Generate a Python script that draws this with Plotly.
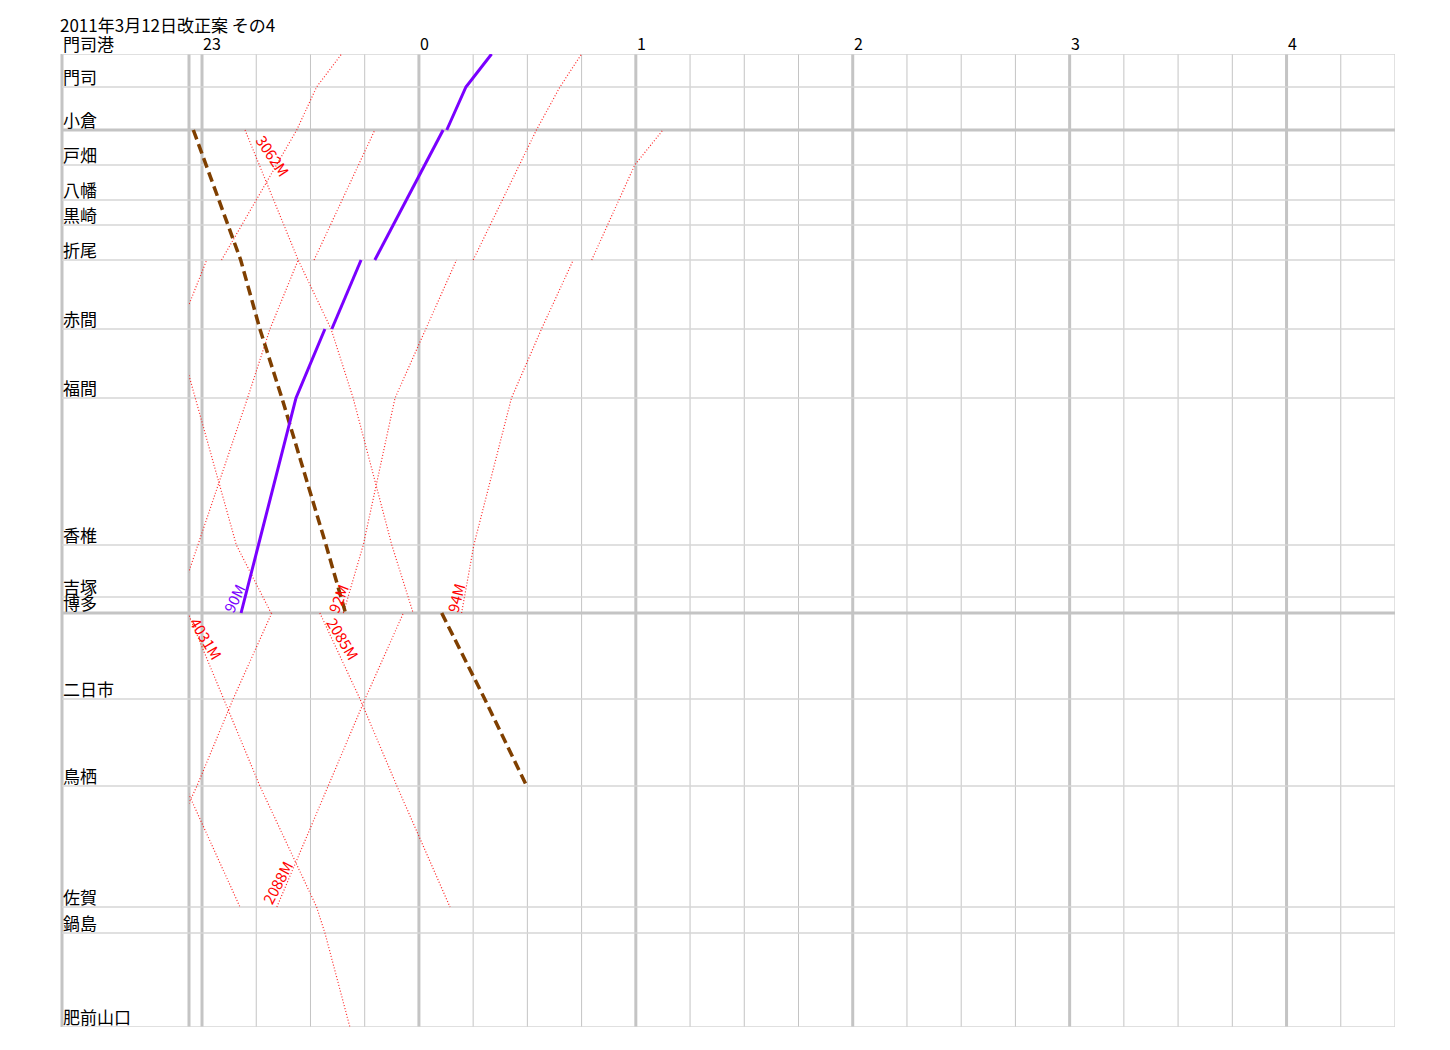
import plotly.graph_objects as go

# ---------------- data ----------------
title_text = "2011年3月12日改正案 その4"

station_names = ["門司港", "門司", "小倉", "戸畑", "八幡", "黒崎", "折尾", "赤間", "福間",
                 "香椎", "吉塚", "博多", "二日市", "鳥栖", "佐賀", "鍋島", "肥前山口"]
station_dist = [0, 33, 76, 111, 146, 171, 206, 275, 344, 491, 543, 559, 645, 732, 853, 879, 973]
major_stations = ["小倉", "博多"]

hour_labels = ["23", "0", "1", "2", "3", "4"]
hour_times = ["23:00", "0:00", "1:00", "2:00", "3:00", "4:00"]
time_start = "22:56.4"
time_end = "4:30"

# each stop: (station, arrival, departure or None)
train_90M = [("博多", "23:10.8", None), ("福間", "23:26.0", None), ("赤間", "23:34.0", "23:35.9"),
             ("折尾", "23:44.0", "23:47.8"), ("小倉", "0:06.7", "0:07.7"), ("門司", "0:13.0", None),
             ("門司港", "0:20.1", None)]
train_92M = [("小倉", "22:57.6", None), ("折尾", "23:10.7", None), ("赤間", "23:16.0", None),
             ("福間", "23:22.1", None), ("香椎", "23:34.3", None), ("博多", "23:39.7", None)]
train_94M = [("博多", "0:06.3", None), ("二日市", "0:18.2", None), ("鳥栖", "0:29.8", None)]

local_trains = {
    "A": [("赤間", "22:53.7", None), ("折尾", "23:01.3", "23:05.4"), ("小倉", "23:26.2", None),
          ("門司", "23:31.7", None), ("門司港", "23:38.6", None)],
    "3062M": [("小倉", "23:11.9", None), ("折尾", "23:26.6", None), ("赤間", "23:35.7", None),
              ("福間", "23:41.8", None), ("香椎", "23:52.5", None), ("博多", "23:58.4", None)],
    "C": [("博多", "22:52.5", None), ("香椎", "22:58.9", None), ("福間", "23:12.6", None),
          ("赤間", "23:18.8", None), ("折尾", "23:26.6", "23:31.0"), ("小倉", "23:47.8", None)],
    "E": [("赤間", "22:52.8", None), ("福間", "22:58.1", None), ("香椎", "23:09.5", None),
          ("博多", "23:19.1", None)],
    "F": [("博多", "23:39.1", None), ("香椎", "23:44.6", None), ("福間", "23:53.4", None),
          ("赤間", "0:01.9", None), ("折尾", "0:10.4", "0:15.0"), ("小倉", "0:32.5", None),
          ("門司", "0:39.0", None), ("門司港", "0:45.0", None)],
    "G": [("博多", "0:11.8", None), ("香椎", "0:15.2", None), ("福間", "0:25.6", None),
          ("赤間", "0:33.9", None), ("折尾", "0:42.7", "0:47.8"), ("戸畑", "0:59.7", None),
          ("小倉", "1:07.5", None)],
    "H": [("佐賀", "22:42.9", None), ("鳥栖", "22:58.6", None), ("二日市", "23:08.6", None),
          ("博多", "23:19.3", None)],
    "I": [("二日市", "22:45.6", None), ("鳥栖", "22:55.3", None), ("佐賀", "23:10.5", None)],
    "4031M": [("博多", "22:56.1", None), ("二日市", "23:06.1", None), ("鳥栖", "23:16.0", None),
              ("佐賀", "23:31.7", None), ("鍋島", "23:34.0", None), ("肥前山口", "23:40.9", None)],
    "2088M": [("佐賀", "23:20.7", None), ("鳥栖", "23:34.9", None), ("二日市", "23:45.1", None),
              ("博多", "23:55.7", None)],
    "2085M": [("博多", "23:32.6", None), ("二日市", "23:43.7", None), ("鳥栖", "23:53.9", None),
              ("佐賀", "0:08.6", None)],
}

# train number labels: (text, time, diagram distance, angle, colour)
train_labels = [
    ("90M", "23:08.7", 544, -64, "#7a00ff"),
    ("92M", "23:37.5", 544, -68, "#ff0000"),
    ("94M", "0:10.0", 544, -75, "#ff0000"),
    ("4031M", "23:01.3", 584, 59, "#ff0000"),
    ("2085M", "23:39.1", 584, 59, "#ff0000"),
    ("2088M", "23:20.7", 828, -62, "#ff0000"),
    ("3062M", "23:19.7", 101, 56, "#ff0000"),
]

# ---------------- helpers ----------------
def tmin(s):
    h, m = s.split(":")
    v = int(h) * 60 + float(m)
    if int(h) >= 12:
        v -= 1440
    return v

pos = dict(zip(station_names, station_dist))

def path(stops):
    xs, ys = [], []
    for st, arr, dep in stops:
        xs.append(tmin(arr)); ys.append(pos[st])
        if dep is not None:
            xs.append(None); ys.append(None)
            xs.append(tmin(dep)); ys.append(pos[st])
    return xs, ys

FONT = "Noto Sans CJK JP, Noto Sans, sans-serif"
x0, x1 = tmin(time_start), tmin(time_end)
# the page body has an 8px margin: figure sits at (8, 8)
W, H = 1442, 1042
ML, MR, MT, MB = 54, 55, 46, 23
plot_w = W - ML - MR
label_col = 127
dom0 = label_col / plot_w

fig = go.Figure()

for name, stops in local_trains.items():
    xs, ys = path(stops)
    fig.add_trace(go.Scatter(x=xs, y=ys, mode="lines", name=name,
                             line=dict(color="rgba(255,0,0,0.85)", width=1.2, dash="1px,2px"),
                             hoverinfo="skip", showlegend=False))

for name, stops in [("92M", train_92M), ("94M", train_94M)]:
    xs, ys = path(stops)
    fig.add_trace(go.Scatter(x=xs, y=ys, mode="lines", name=name,
                             line=dict(color="#7f3f00", width=3.5, dash="10px,5px"),
                             hoverinfo="skip", showlegend=False))

xs, ys = path(train_90M)
fig.add_trace(go.Scatter(x=xs, y=ys, mode="lines", name="90M",
                         line=dict(color="#7a00ff", width=3), hoverinfo="skip", showlegend=False))

# ---------------- grid ----------------
shapes = []
GRID = "#c4c4c4"
t = -60
while t <= x1 + 0.01:
    is_hour = (t % 60 == 0)
    shapes.append(dict(type="line", xref="x", yref="paper", x0=t, x1=t, y0=0, y1=1,
                       line=dict(color=GRID, width=3 if is_hour else 1), layer="below"))
    t += 15
# left borders
for px in [0, dom0]:
    shapes.append(dict(type="line", xref="paper", yref="paper", x0=px, x1=px, y0=0, y1=1,
                       line=dict(color=GRID, width=3), layer="below"))
for st, d in zip(station_names, station_dist):
    major = st in major_stations
    shapes.append(dict(type="line", xref="paper", yref="y", x0=0, x1=1, y0=d, y1=d,
                       line=dict(color="#c4c4c4" if major else "#d6d6d6", width=3 if major else 1.5),
                       layer="below"))

annotations = []
annotations.append(dict(text=title_text, xref="paper", yref="paper", x=0, y=1, xanchor="left",
                        yanchor="bottom", xshift=-3, yshift=16, showarrow=False, borderpad=0,
                        font=dict(family=FONT, size=17, color="#000")))
for lab, ht in zip(hour_labels, hour_times):
    annotations.append(dict(text=lab, xref="x", yref="paper", x=tmin(ht), y=1, xanchor="left",
                            yanchor="bottom", xshift=0, yshift=-2, showarrow=False, borderpad=0,
                            font=dict(family=FONT, size=16, color="#000")))
for st, d in zip(station_names, station_dist):
    annotations.append(dict(text=st, xref="paper", yref="y", x=0, y=d, xanchor="left",
                            yanchor="bottom", xshift=0, yshift=-3, showarrow=False, borderpad=0,
                            font=dict(family=FONT, size=17, color="#000")))
for text, tt, d, ang, col in train_labels:
    annotations.append(dict(text=text, xref="x", yref="y", x=tmin(tt), y=d, xanchor="center",
                            yanchor="middle", textangle=ang, showarrow=False, borderpad=0,
                            font=dict(family=FONT, size=15, color=col)))

fig.update_layout(
    width=W, height=H,
    margin=dict(l=ML, r=MR, t=MT, b=MB, pad=0),
    paper_bgcolor="white", plot_bgcolor="white",
    xaxis=dict(domain=[dom0, 1], range=[x0, x1], showgrid=False, zeroline=False,
               showticklabels=False, ticks="", fixedrange=True),
    yaxis=dict(range=[station_dist[-1], 0], showgrid=False, zeroline=False,
               showticklabels=False, ticks="", fixedrange=True),
    shapes=shapes, annotations=annotations, showlegend=False,
)
fig.write_html("out.html")
